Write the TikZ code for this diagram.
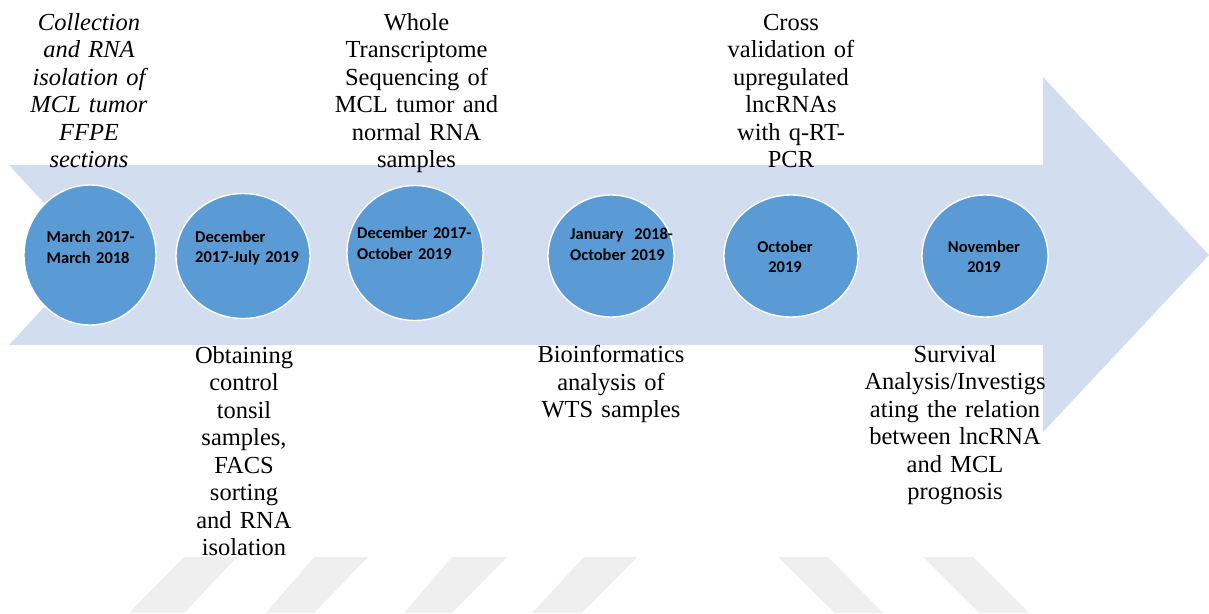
\documentclass[tikz,border=0pt]{standalone}
\usepackage{fontspec}
\setmainfont{Liberation Serif}
\newfontfamily\calib{Carlito}
\usetikzlibrary{shapes.geometric}
\definecolor{arrowfill}{HTML}{D2DEEF}
\definecolor{circfill}{HTML}{5B9BD5}
\definecolor{stripe}{HTML}{EFEFEF}
\tikzset{
  stepcirc/.style={ellipse, fill=circfill, draw=white, line width=1.4pt, inner sep=0pt},
  datetext/.style={inner sep=0pt, text width=130pt, align=left, font=\calib\bfseries\fontsize{16.5}{20.5}\selectfont, text=black},
  datectr/.style={inner sep=0pt, text width=130pt, align=center, font=\calib\bfseries\fontsize{16.5}{20.5}\selectfont, text=black},
  desc/.style={inner sep=0pt, text width=240pt, align=center, anchor=base, font=\fontsize{24.5}{27.5}\selectfont, text=black},
  wm/.style={fill=stripe}
}
\begin{document}
\begin{tikzpicture}[x=1pt,y=-1pt]
\useasboundingbox (0,0) rectangle (1209,613);
% watermark stripes
\fill[wm] (184,557) -- (237,557) -- (184,613) -- (129,613) -- cycle;
\fill[wm] (314,557) -- (368,557) -- (314,613) -- (266,613) -- cycle;
\fill[wm] (452,557) -- (507,557) -- (452,613) -- (404,613) -- cycle;
\fill[wm] (584,557) -- (637,557) -- (582,613) -- (532,613) -- cycle;
\fill[wm] (778,557) -- (828,557) -- (883,613) -- (835,613) -- cycle;
\fill[wm] (923,557) -- (973,557) -- (1029,613) -- (979,613) -- cycle;
% big arrow
\fill[arrowfill] (9,165) -- (1043,165) -- (1043,77) -- (1209,255) -- (1043,432) -- (1043,345) -- (9,345) -- (92,255) -- cycle;
% descriptions
\node[desc, font=\itshape\fontsize{24.5}{27.5}\selectfont] (t1) at (89,30) {Collection\\and RNA\\isolation of\\MCL tumor\\FFPE\\sections};
\node[desc] (t2) at (416.5,30) {Whole\\Transcriptome\\Sequencing of\\MCL tumor and\\normal RNA\\samples};
\node[desc] (t3) at (791,30) {Cross\\validation of\\upregulated\\lncRNAs\\with q-RT-\\PCR};
\node[desc] (t4) at (244,363) {Obtaining\\control\\tonsil\\samples,\\FACS\\sorting\\and RNA\\isolation};
\node[desc] (t5) at (611,362.5) {Bioinformatics\\analysis of\\WTS samples};
\node[desc] (t6) at (955,362) {Survival\\Analysis/Investigs\\ating the relation\\between lncRNA\\and MCL\\prognosis};
% circles
\node[stepcirc, minimum width=132pt, minimum height=140pt] (c1) at (90,255) {};
\node[stepcirc, minimum width=134pt, minimum height=125pt] (c2) at (243,256) {};
\node[stepcirc, minimum width=136pt, minimum height=135pt] (c3) at (415,253) {};
\node[stepcirc, minimum width=126pt, minimum height=122pt] (c4) at (611,256) {};
\node[stepcirc, minimum width=134pt, minimum height=122pt] (c5) at (791,256) {};
\node[stepcirc, minimum width=126pt, minimum height=122pt] (c6) at (985,256) {};
% dates
\node[datetext, anchor=base west] (d1) at (46.5,242.5) {March 2017-\\March 2018};
\node[datetext, anchor=base west] (d2) at (195,242) {December\\2017-July 2019};
\node[datetext, anchor=base west] (d3) at (357,238.5) {December 2017-\\October 2019};
\node[datetext, anchor=base west] (d4) at (570,239.5) {January\ \ 2018-\\October 2019};
\node[datectr, anchor=base] (d5) at (785,252) {October\\2019};
\node[datectr, anchor=base] (d6) at (984,252) {November\\2019};
\end{tikzpicture}
\end{document}
